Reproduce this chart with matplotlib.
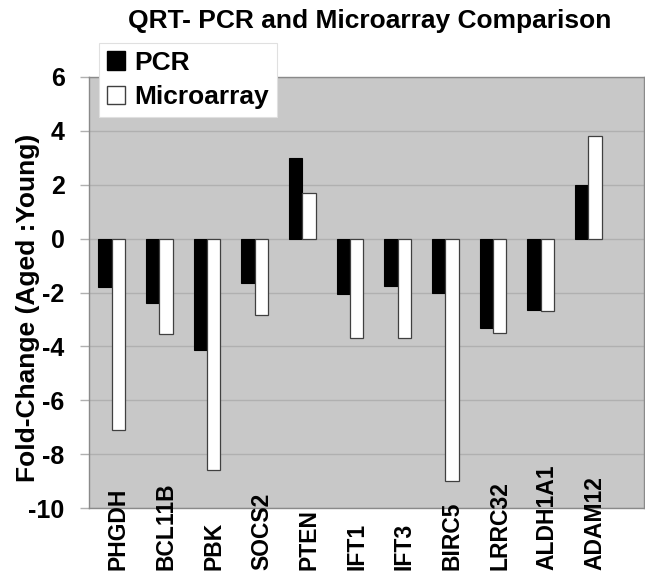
import numpy as np
import matplotlib.pyplot as plt
from matplotlib.patches import Patch

genes = ["PHGDH", "BCL11B", "PBK", "SOCS2", "PTEN", "IFT1", "IFT3",
         "BIRC5", "LRRC32", "ALDH1A1", "ADAM12"]
pcr = [-1.8, -2.4, -4.15, -1.65, 3.0, -2.05, -1.75, -2.0, -3.3, -2.65, 2.0]
micro = [-7.1, -3.55, -8.6, -2.85, 1.7, -3.7, -3.7, -9.0, -3.5, -2.7, 3.8]
yticks = [6, 4, 2, 0, -2, -4, -6, -8, -10]

plt.rcParams['font.family'] = ['Liberation Sans', 'DejaVu Sans']
plt.rcParams['font.weight'] = 'bold'

fig = plt.figure(figsize=(6.45, 5.75), dpi=100)
ax = fig.add_axes([0.138, 0.1165, 0.860, 0.7496])
ax.set_facecolor("#c8c8c8")

x = np.arange(len(genes))
w = 0.28
ax.bar(x - w / 2, pcr, w, color="black", edgecolor="black", linewidth=0.8, zorder=3)
ax.bar(x + w / 2, micro, w, color="white", edgecolor="#404040", linewidth=0.9, zorder=3)

ax.set_ylim(-10, 6)
ax.set_xlim(-0.476, 11.16)
ax.set_yticks(yticks)
ax.set_yticklabels([str(v) for v in yticks], fontsize=18, fontweight='bold')
ax.set_xticks([])
ax.grid(axis="y", color="#b0b0b0", linewidth=1.0, zorder=0)
ax.tick_params(axis="y", length=6.5, width=1.0, color="#b0b0b0", pad=11)
for s in ax.spines.values():
    s.set_color("#8a8a8a")
    s.set_linewidth(1.0)

for xi, g in zip(x, genes):
    ax.text(xi + 0.14, -0.144, g, transform=ax.get_xaxis_transform(),
            rotation=90, ha="center", va="bottom", fontsize=16.5, fontweight='bold')

fig.text(28 / 645, 1 - 308 / 575, "Fold-Change (Aged :Young)", rotation=90,
         ha="center", va="center", fontsize=19, fontweight='bold')

fig.text(370 / 645, 1 - 21 / 575, "QRT- PCR and Microarray Comparison",
         ha="center", va="center", fontsize=19, fontweight='bold')

handles = [Patch(facecolor="black", edgecolor="black"),
           Patch(facecolor="white", edgecolor="#404040")]
leg = fig.legend(handles, ["PCR", "Microarray"], loc="upper left",
                 bbox_to_anchor=(99 / 645, 1 - 43 / 575), fontsize=19,
                 frameon=True, fancybox=False, framealpha=1,
                 handlelength=0.7, handleheight=0.7, handletextpad=0.35,
                 borderpad=0.3, labelspacing=0.4, borderaxespad=0)
leg.get_frame().set_edgecolor("#e0e0e0")
leg.get_frame().set_linewidth(0.8)
for t in leg.get_texts():
    t.set_fontweight('bold')

fig.savefig("out.png", dpi=100)
